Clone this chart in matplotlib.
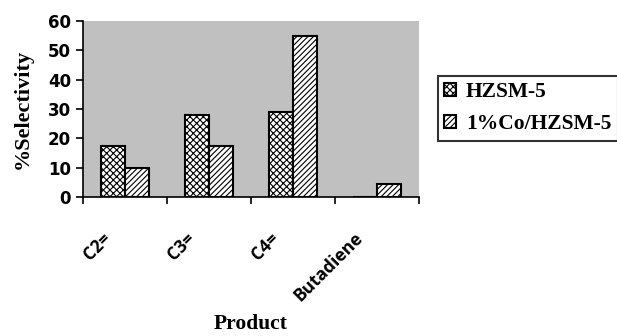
import numpy as np
import matplotlib.pyplot as plt
import matplotlib.transforms as mtransforms

# selectivity of each product over the two catalysts
produtos = ['C2=', 'C3=', 'C4=', 'Butadiene']
hzsm5 = [17.5, 28, 29, 0]
co_hzsm5 = [10, 17.5, 55, 4.5]
series = ['HZSM-5', '1%Co/HZSM-5']

plt.rcParams['hatch.linewidth'] = 0.8

fig = plt.figure(figsize=(6.17, 3.36), dpi=100)
ax = fig.add_axes([83 / 617, 1 - 197 / 336, 336 / 617, 176 / 336])
ax.set_facecolor('#c0c0c0')

x = np.arange(len(produtos))
largura = 0.286
b1 = ax.bar(x - largura / 2, hzsm5, largura, color='white', edgecolor='black',
            hatch='xxxxx', linewidth=1.5, label=series[0])
b2 = ax.bar(x + largura / 2, co_hzsm5, largura, color='white', edgecolor='black',
            hatch='//////', linewidth=1.5, label=series[1])

ax.set_xlim(-0.5, len(produtos) - 0.5)
ax.set_ylim(0, 60)
ax.set_yticks(range(0, 61, 10))
for s in ['top', 'right']:
    ax.spines[s].set_visible(False)
ax.spines['left'].set_linewidth(1.2)
ax.spines['bottom'].set_linewidth(1.2)

# ticks sit between categories, the names go on the minor positions
ax.set_xticks(np.arange(-0.5, len(produtos), 1))
ax.set_xticklabels([])
ax.tick_params(axis='x', which='major', length=5, width=1.2, direction='out')
ax.set_xticks(x, minor=True)
ax.set_xticklabels(produtos, minor=True, rotation=45, ha='right', va='top',
                   fontsize=12.5, fontweight='bold', family='Open Sans')
ax.tick_params(axis='x', which='minor', length=0, pad=23)
desloc = mtransforms.ScaledTranslation(-0.1, 0, fig.dpi_scale_trans)
for lbl in ax.get_xticklabels(minor=True):
    lbl.set_transform(lbl.get_transform() + desloc)

ax.tick_params(axis='y', length=5, width=1.2, direction='out', labelsize=12)
for lbl in ax.get_yticklabels():
    lbl.set_fontweight('bold')

ax.set_ylabel('%Selectivity', family='Liberation Serif', fontweight='bold',
              fontsize=16, labelpad=11)
ax.set_xlabel('Product', family='Liberation Serif', fontweight='bold', fontsize=15.5)
ax.xaxis.set_label_coords(0.5, -0.665)

leg = fig.legend(handles=[b1, b2], loc='upper left',
                 bbox_to_anchor=(438 / 617, 1 - 76 / 336),
                 prop={'family': 'Liberation Serif', 'weight': 'bold', 'size': 15.5},
                 frameon=True, fancybox=False, edgecolor='black',
                 handlelength=0.55, handleheight=0.55, handletextpad=0.45,
                 borderaxespad=0, borderpad=0.3, labelspacing=0.55)
leg.get_frame().set_linewidth(1.5)

fig.savefig('out.png', dpi=100)
